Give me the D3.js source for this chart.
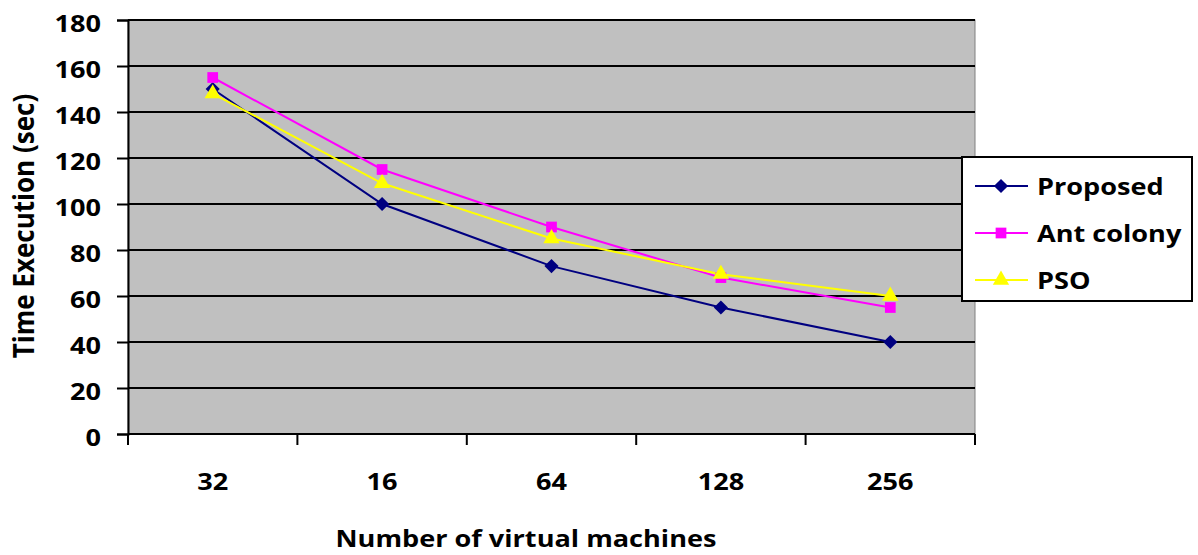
<!DOCTYPE html>
<html>
<head>
<meta charset="utf-8">
<script src="https://cdn.jsdelivr.net/npm/d3@7"></script>
<style>
  body { margin: 0; background: #fff; }
  svg { display: block; }
  text { font-family: "Open Sans", sans-serif; font-weight: bold; fill: #000; }
</style>
</head>
<body>
<div id="container"></div>
<script>
// ==================== data ==================== //

const categories = ["32", "16", "64", "128", "256"];
const yTicks = [0, 20, 40, 60, 80, 100, 120, 140, 160, 180];

const proposed = [150, 100, 73, 55, 40];
const antColony = [155, 115, 90, 68, 55];
const pso = [148, 109, 85, 69.5, 60];

// a diamond here is a square turned by 45 degrees, as in the original
const series = [
    { name: "Proposed", values: proposed, color: "#000080", symbol: d3.symbolSquare, size: 100, rotate: 45 },
    { name: "Ant colony", values: antColony, color: "#FF00FF", symbol: d3.symbolSquare, size: 115, rotate: 0 },
    { name: "PSO", values: pso, color: "#FFFF00", symbol: d3.symbolTriangle, size: 115, rotate: 0 }
];

// ==================== layout ==================== //

const width = 1198, height = 555;
const plot = { left: 128, right: 975, top: 20, bottom: 434 };
const fontSize = 24;
const stretch = 1.13; // the original text is a bit wider than Open Sans

const svg = d3.select("#container")
    .append("svg")
    .attr("width", width)
    .attr("height", height);

const x = d3.scaleBand()
    .domain(categories)
    .range([plot.left, plot.right]);

const y = d3.scaleLinear()
    .domain([0, 180])
    .range([plot.bottom, plot.top]);

function wideText(sel, tx, ty) {
    return sel.attr("transform", `translate(${tx},${ty}) scale(${stretch},1)`);
}

// plot background
svg.append("rect")
    .attr("x", plot.left)
    .attr("y", plot.top)
    .attr("width", plot.right - plot.left)
    .attr("height", plot.bottom - plot.top)
    .attr("fill", "#C0C0C0")
    .attr("stroke", "#808080")
    .attr("stroke-width", 1);

// gridlines
svg.append("g")
    .selectAll("line")
    .data(yTicks.filter(d => d > 0))
    .join("line")
    .attr("x1", plot.left)
    .attr("x2", plot.right)
    .attr("y1", d => y(d))
    .attr("y2", d => y(d))
    .attr("stroke", "#000")
    .attr("stroke-width", 2);

// y axis
const yAxis = svg.append("g")
    .attr("transform", `translate(${plot.left},0)`)
    .call(d3.axisLeft(y).tickValues(yTicks).tickSize(11));
yAxis.select(".domain").attr("stroke", "#000").attr("stroke-width", 2);
yAxis.selectAll(".tick line").attr("stroke", "#000").attr("stroke-width", 2);
yAxis.selectAll(".tick text")
    .attr("x", -27 / stretch)
    .attr("transform", `scale(${stretch},1)`)
    .attr("font-size", fontSize)
    .attr("font-family", "'Open Sans', sans-serif")
    .attr("font-weight", "bold")
    .attr("dy", "0.48em");

// x axis: ticks on category boundaries
const xAxis = svg.append("g")
    .attr("transform", `translate(0,${plot.bottom})`);
xAxis.append("line")
    .attr("x1", plot.left)
    .attr("x2", plot.right)
    .attr("stroke", "#000")
    .attr("stroke-width", 2);
const boundaries = categories.map(c => x(c)).concat([plot.right]);
xAxis.selectAll(".bound")
    .data(boundaries)
    .join("line")
    .attr("class", "bound")
    .attr("x1", d => d)
    .attr("x2", d => d)
    .attr("y1", 0)
    .attr("y2", 11)
    .attr("stroke", "#000")
    .attr("stroke-width", 2);
xAxis.selectAll("text")
    .data(categories)
    .join("text")
    .each(function (d) { wideText(d3.select(this), x(d) + x.bandwidth() / 2, 56); })
    .attr("text-anchor", "middle")
    .attr("font-size", fontSize)
    .text(d => d);

// axis titles
svg.append("text")
    .attr("transform", `translate(34,226) scale(${stretch},1) rotate(-90)`)
    .attr("text-anchor", "middle")
    .attr("font-size", 26)
    .text("Time Execution (sec)");

svg.append("text")
    .call(wideText, 526, 547)
    .attr("text-anchor", "middle")
    .attr("font-size", fontSize)
    .text("Number of virtual machines");

// ==================== series ==================== //

const line = d3.line()
    .x((d, i) => x(categories[i]) + x.bandwidth() / 2)
    .y(d => y(d));

series.forEach(s => {
    svg.append("path")
        .datum(s.values)
        .attr("d", line)
        .attr("fill", "none")
        .attr("stroke", s.color)
        .attr("stroke-width", 2);
});

series.forEach(s => {
    svg.append("g")
        .selectAll("path")
        .data(s.values)
        .join("path")
        .attr("transform", (d, i) => `translate(${x(categories[i]) + x.bandwidth() / 2},${y(d)}) rotate(${s.rotate})`)
        .attr("d", d3.symbol().type(s.symbol).size(s.size))
        .attr("fill", s.color);
});

// ==================== legend ==================== //

const legend = svg.append("g").attr("transform", "translate(962,157)");
legend.append("rect")
    .attr("width", 230)
    .attr("height", 144)
    .attr("fill", "#fff")
    .attr("stroke", "#000")
    .attr("stroke-width", 2);

const rows = legend.selectAll(".row")
    .data(series)
    .join("g")
    .attr("class", "row")
    .attr("transform", (d, i) => `translate(0,${29 + i * 47})`);
rows.append("line")
    .attr("x1", 13)
    .attr("x2", 66)
    .attr("stroke", d => d.color)
    .attr("stroke-width", 2);
rows.append("path")
    .attr("transform", d => `translate(39,0) rotate(${d.rotate})`)
    .attr("d", d => d3.symbol().type(d.symbol).size(d.size)())
    .attr("fill", d => d.color);
rows.append("text")
    .call(wideText, 75, 0)
    .attr("dy", "0.36em")
    .attr("font-size", fontSize)
    .text(d => d.name);
</script>
</body>
</html>
